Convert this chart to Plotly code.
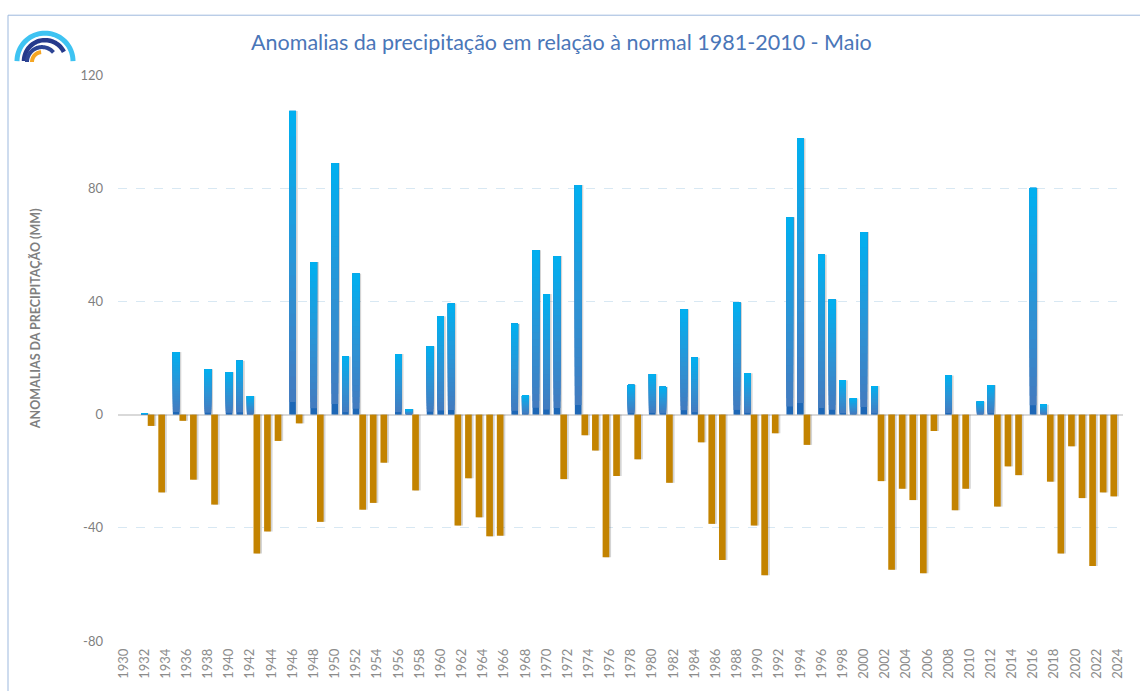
import plotly.graph_objects as go
import math

# ---------------- data ----------------
years = list(range(1930, 2025))
anomalies = [
    None, None, 0.5, -4.0, -27.5, 22.1, -2.2, -23.0, 16.0, -31.8,        # 1930-1939
    15.0, 19.0, 6.5, -49.1, -41.3, -9.3, 107.3, -3.1, 53.9, -37.9,       # 1940-1949
    88.9, 20.5, 49.8, -33.6, -31.2, -17.0, 21.4, 1.9, -26.8, 24.1,       # 1950-1959
    34.7, 39.2, -39.2, -22.5, -36.3, -43.0, -42.8, 32.1, 6.7, 58.1,      # 1960-1969
    42.6, 56.0, -22.8, 81.1, -7.3, -12.7, -50.4, -21.7, 10.5, -15.8,     # 1970-1979
    14.3, 9.8, -24.1, 37.2, 20.1, -9.8, -38.6, -51.4, 39.6, 14.6,        # 1980-1989
    -39.2, -56.8, -6.6, 69.7, 97.6, -10.7, 56.5, 40.6, 12.1, 5.7,        # 1990-1999
    64.5, 10.1, -23.5, -54.8, -26.2, -30.2, -56.1, -5.8, 13.8, -33.8,    # 2000-2009
    -26.2, 4.6, 10.4, -32.5, -18.3, -21.4, 80.1, 3.5, -23.7, -49.1,      # 2010-2019
    -11.2, -29.5, -53.5, -27.5, -28.9,                                   # 2020-2024
]
tick_years = list(range(1930, 2025, 2))
y_ticks = [120, 80, 40, 0, -40, -80]
y_tick_labels = ["120", "80", "40", "0", "-40", "-80"]

title_text = "Anomalias da precipitação em relação à normal 1981-2010 - Maio"
ytitle_text = "ANOMALIAS DA PRECIPITAÇÃO (MM)"

# ---------------- geometry helpers ----------------
W, H = 1140, 691
L, R, T, B = 118, 17, 75, 48
PW, PH = W - L - R, H - T - B


def px(xp):
    return (xp - L) / PW


def py(yp):
    return (H - B - yp) / PH


pos_x = [y for y, v in zip(years, anomalies) if v is not None and v > 0]
pos_v = [v for v in anomalies if v is not None and v > 0]
neg_x = [y for y, v in zip(years, anomalies) if v is not None and v < 0]
neg_v = [v for v in anomalies if v is not None and v < 0]

BW = 0.63
BLUE_OFF = -0.315
ORANGE_OFF = -0.69
SHADOW_SHIFT = 0.17

fig = go.Figure()

# shadows
fig.add_trace(go.Bar(x=pos_x, y=pos_v, width=BW, offset=BLUE_OFF + SHADOW_SHIFT,
                     marker=dict(color="rgba(60,60,60,0.22)", line=dict(width=0)),
                     hoverinfo="skip", showlegend=False))
fig.add_trace(go.Bar(x=neg_x, y=neg_v, width=BW, offset=ORANGE_OFF + SHADOW_SHIFT,
                     marker=dict(color="rgba(60,60,60,0.22)", line=dict(width=0)),
                     hoverinfo="skip", showlegend=False))

# blue gradient bars (bottom dark -> top cyan)
stops = [(0.0, (10, 92, 176)), (0.06, (66, 124, 192)), (0.45, (46, 146, 212)), (1.0, (0, 176, 240))]


def grad(t):
    for (t0, c0), (t1, c1) in zip(stops[:-1], stops[1:]):
        if t <= t1:
            f = (t - t0) / (t1 - t0) if t1 > t0 else 0
            return "rgb(%d,%d,%d)" % tuple(round(a + (b - a) * f) for a, b in zip(c0, c1))
    return "rgb(%d,%d,%d)" % stops[-1][1]


N = 24
for k in range(N):
    t = (k + 0.5) / N
    fig.add_trace(go.Bar(
        x=pos_x, y=[v * (N - k) / N for v in pos_v], base=[v * k / N for v in pos_v],
        width=BW, offset=BLUE_OFF,
        marker=dict(color=grad(t), line=dict(width=0)),
        hoverinfo="skip" if k else "x+y", showlegend=False))

# orange bars
fig.add_trace(go.Bar(x=neg_x, y=neg_v, width=BW, offset=ORANGE_OFF,
                     marker=dict(color="#C38300", line=dict(width=0)),
                     showlegend=False))

fig.update_layout(
    width=W, height=H,
    margin=dict(l=L, r=R, t=T, b=B),
    barmode="overlay",
    plot_bgcolor="white", paper_bgcolor="white",
    font=dict(family="Lato, 'Open Sans', sans-serif", color="#7F7F7F"),
    showlegend=False,
)
fig.update_xaxes(range=[1929.5, 2024.5], tickmode="array", tickvals=tick_years,
                 ticktext=[str(y) for y in tick_years], tickangle=-90,
                 tickfont=dict(size=13, color="#8C8C8C"), showgrid=False,
                 zeroline=False, showline=False, ticks="", ticklabelstandoff=4)
fig.update_yaxes(range=[-80, 120], tickmode="array", tickvals=y_ticks, ticktext=y_tick_labels,
                 tickfont=dict(size=13, color="#7F7F7F"), showgrid=True,
                 gridcolor="#D8E8F3", griddash="dash", gridwidth=1,
                 zeroline=True, zerolinecolor="#D9D9D9", zerolinewidth=1.5,
                 showline=False, ticks="", ticklabelstandoff=14)

# title and y title
fig.add_annotation(text=title_text, x=px(561), y=py(42), xref="paper", yref="paper",
                   showarrow=False, xanchor="center", yanchor="middle",
                   font=dict(size=21.5, color="#4A76B8", family="Lato, sans-serif"))
fig.add_annotation(text="<b>" + ytitle_text + "</b>", x=px(35), y=py(320), xref="paper", yref="paper",
                   showarrow=False, textangle=-90, xanchor="center", yanchor="middle",
                   font=dict(size=12.5, color="#7F7F7F", family="Lato, sans-serif"))

# chart frame (top and left edges)
fig.add_shape(type="line", xref="paper", yref="paper", x0=px(8), x1=px(1145), y0=py(15), y1=py(15),
              line=dict(color="#9DB9DE", width=1))
fig.add_shape(type="line", xref="paper", yref="paper", x0=px(8), x1=px(8), y0=py(15), y1=py(700),
              line=dict(color="#9DB9DE", width=1))


# logo arcs
def arc_path(cx, cy, r, a0, a1, n=40):
    pts = []
    for i in range(n + 1):
        a = math.radians(a0 + (a1 - a0) * i / n)
        pts.append((px(cx + r * math.cos(a)), py(cy - r * math.sin(a))))
    return "M " + " L ".join("%.5f,%.5f" % p for p in pts)


logo = [
    (45, 61, 28, 180, 0, "#3EC3F2", 5),
    (45, 61, 21, 180, 26, "#263A8C", 4.5),
    (42, 62, 15, 180, 40, "#2D4595", 4),
    (42, 62, 10, 180, 95, "#F5A623", 4),
]
for cx, cy, r, a0, a1, col, lw in logo:
    fig.add_shape(type="path", xref="paper", yref="paper", path=arc_path(cx, cy, r, a0, a1),
                  line=dict(color=col, width=lw))

fig.write_html("out.html", config={"displayModeBar": False},
               post_script="document.body.style.margin='0px';document.body.style.overflow='hidden';")
